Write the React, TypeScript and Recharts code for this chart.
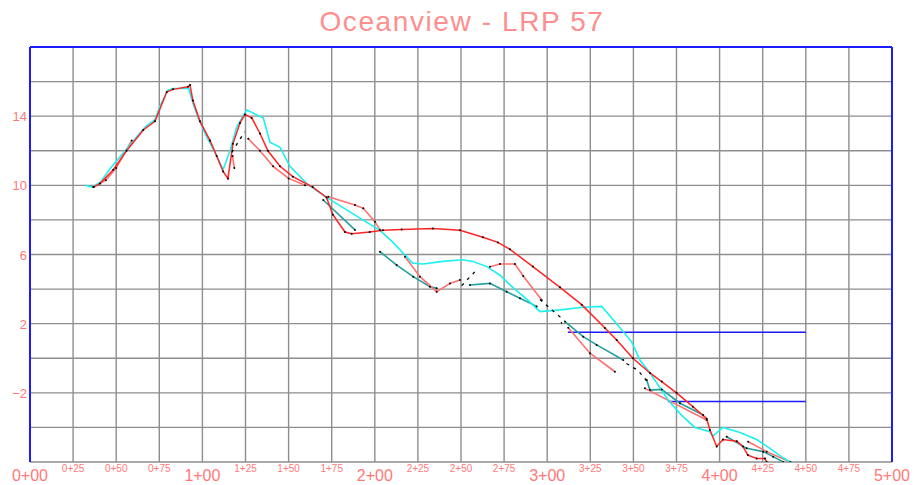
import { LineChart, Line, XAxis, YAxis, CartesianGrid, ReferenceLine } from "recharts";

type Pt = [number, number];

// stations every 25 ft, elevations every 2 ft
const STATIONS = [0, 25, 50, 75, 100, 125, 150, 175, 200, 225, 250, 275, 300, 325, 350, 375, 400, 425, 450, 475, 500];
const ELEV_GRID = [-6, -4, -2, 0, 2, 4, 6, 8, 10, 12, 14, 16, 18];
const ELEV_LABELS = [14, 10, 6, 2, -2];

const cyanProfile: Pt[] = [
  [32, 10.0], [36, 9.9], [41, 10.2], [46, 10.9], [56, 12.1], [67, 13.4], [72.5, 13.8], [75.5, 14.6],
  [80, 15.5], [83, 15.6], [92, 15.6], [94.7, 14.7], [97.6, 13.9], [102.5, 12.8], [107.3, 11.9],
  [112, 10.9], [116, 12.0], [120, 13.4], [125.7, 14.35], [135.3, 13.9], [139.2, 12.5], [145, 12.2],
  [150.8, 11.1], [160.5, 10.1], [172, 9.3], [193, 8.0], [203, 7.4], [210.5, 6.7], [222, 5.5],
  [228, 5.45], [239.5, 5.6], [251, 5.7], [257, 5.6], [265, 5.3], [272.6, 4.8], [280, 4.1],
  [288.3, 3.4], [295.8, 2.7], [307.4, 2.8], [320.7, 2.95], [331.6, 3.0], [340.3, 2.0], [349, 0.95],
  [353.8, -0.1], [359.6, -0.85], [365.4, -1.7], [370, -2.4], [378, -3.3], [385.7, -4.0], [394.4, -4.25],
  [396, -4.5], [402, -4.0], [411.8, -4.3], [421.5, -4.7], [429, -5.2], [436, -5.7], [441, -6.0],
];

const redProfile: Pt[] = [
  [36.7, 9.9], [40.6, 10.1], [48.3, 10.9], [56, 12.0], [65.7, 13.2], [72.5, 13.7], [79.3, 15.4],
  [83, 15.55], [91.6, 15.7], [92.8, 15.8], [94.5, 14.9], [98.6, 13.7], [104.4, 12.6], [108.3, 11.7],
  [112, 10.8], [114.8, 10.4], [117.7, 12.4], [121.8, 13.6], [124.7, 14.1], [128.6, 13.9], [133.4, 13.0],
  [138, 12.0], [145, 11.1], [152.5, 10.5], [164, 9.9], [172, 9.3], [175.7, 8.3], [182.7, 7.3],
  [186.6, 7.2], [197, 7.3], [204.7, 7.4], [215.6, 7.45], [233.7, 7.5], [249.4, 7.4], [262.7, 7.0],
  [271.4, 6.7], [278.4, 6.3], [291.7, 5.3], [307.4, 4.1], [320, 3.1], [333.5, 1.75], [340.3, 1.05],
  [349.7, 0.0], [359.6, -0.85], [366.4, -1.35], [375, -2.0], [384.5, -2.8], [392.5, -3.5], [394.4, -4.15],
  [398.3, -5.1], [402, -4.7], [410, -4.8], [413.5, -5.1], [416.4, -5.6], [421.5, -5.8], [426.3, -5.8],
  [427.3, -6.0],
];

const salmonSegments: Pt[][] = [
  [[37, 9.9], [44, 10.3], [50, 11.0], [59, 12.6]],
  [[117.5, 11.7], [118.5, 11.0]],
  [[126.6, 12.7], [133.4, 12.0], [141, 11.1], [150, 10.4], [159.5, 10.0]],
  [[173, 9.34], [188.5, 8.86], [193.3, 8.67], [200.1, 7.9], [203, 7.42]],
  [[217.5, 5.87], [226.2, 4.72], [235.9, 3.85], [243.6, 4.33], [249.4, 4.53]],
  [[266.8, 5.29], [272.6, 5.45], [281.3, 5.45], [286.1, 4.76], [296.8, 3.37]],
  [[312.2, 1.77], [324.8, 0.29], [339.3, -0.78]],
  [[356.7, -1.74], [392.5, -3.57]],
  [[416.6, -4.83], [427.3, -5.4], [441, -6.0]],
];

const tealSegments: Pt[][] = [
  [[170.1, 9.15], [188.5, 7.42]],
  [[203, 6.16], [212.7, 5.39], [222.3, 4.72], [232, 4.14], [235.9, 4.05]],
  [[255.2, 4.24], [266.8, 4.33], [276.5, 3.85], [284.2, 3.47], [293.9, 3.0]],
  [[310.3, 2.12], [320.9, 1.25], [328.7, 0.77], [344.1, -0.1]],
  [[357.7, -1.26], [359.6, -1.84], [366.4, -1.8], [377, -2.6], [390.5, -3.28]],
  [[404.1, -4.54], [415.7, -5.21], [425.3, -5.4], [431.1, -5.69], [436.9, -6.0]],
];

const blackDashSegments: Pt[][] = [
  [[117, 11.9], [124.5, 13.1]],
  [[250.4, 4.2], [258, 5.0]],
  [[295.8, 3.4], [302.6, 2.8], [307.4, 2.4], [308.4, 2.0]],
  [[346, -0.3], [352.6, -0.7], [357.7, -1.3]],
];

const blueLevels: Pt[][] = [
  [[312, 1.5], [450, 1.5]],
  [[370, -2.5], [450, -2.5]],
];

const toPts = (arr: Pt[]) => arr.map(([x, y]) => ({ x, y }));

const LABEL_COLOR = "#ff7878";
const BORDER = "#1c1cff";
const FONT = "Liberation Sans, Arial, sans-serif";

const fmtStation = (v: number) => `${Math.floor(v / 100)}+${String(v % 100).padStart(2, "0")}`;

function StationTick(props: any) {
  const { x, y, payload } = props;
  const v = payload.value as number;
  const major = v % 100 === 0;
  return (
    <text
      x={x}
      y={major ? y + 19 : y + 10}
      textAnchor="middle"
      fill={LABEL_COLOR}
      fontSize={major ? 16 : 10}
      fontFamily={FONT}
    >
      {fmtStation(v)}
    </text>
  );
}

function ElevTick(props: any) {
  const { x, y, payload } = props;
  const v = payload.value as number;
  if (!ELEV_LABELS.includes(v)) return <g />;
  return (
    <text x={x - 3} y={y + 5} textAnchor="end" fill={LABEL_COLOR} fontSize={13} fontFamily={FONT}>
      {v < 0 ? `\u2212${Math.abs(v)}` : v}
    </text>
  );
}

export default function App() {
  return (
    <div style={{ position: "absolute", left: 0, top: 0, width: 914, height: 485, background: "#fff" }}>
      <svg width={914} height={44} style={{ position: "absolute", left: 0, top: 0 }}>
        <text x={462} y={31} textAnchor="middle" fill="#ff8e8e" fontSize={28} letterSpacing={1.6} fontFamily={FONT}>
          Oceanview - LRP 57
        </text>
      </svg>
      <LineChart width={914} height={485} margin={{ top: 47, right: 22, bottom: 0, left: 0 }}>
        <CartesianGrid stroke="#8e8e8e" strokeWidth={1.4} />
        <XAxis
          type="number"
          dataKey="x"
          domain={[0, 500]}
          ticks={STATIONS}
          interval={0}
          allowDataOverflow
          axisLine={false}
          tickLine={false}
          tickSize={0}
          tickMargin={0}
          height={23}
          tick={StationTick}
        />
        <YAxis
          type="number"
          dataKey="y"
          domain={[-6, 18]}
          ticks={ELEV_GRID}
          interval={0}
          allowDataOverflow
          axisLine={false}
          tickLine={false}
          tickSize={0}
          tickMargin={0}
          width={30}
          tick={ElevTick}
        />
        <ReferenceLine y={18} stroke={BORDER} strokeWidth={2} />
        <ReferenceLine x={0} stroke={BORDER} strokeWidth={2} />
        <ReferenceLine x={500} stroke={BORDER} strokeWidth={2} />
        {blueLevels.map((seg, i) => (
          <Line key={`b${i}`} data={toPts(seg)} dataKey="y" type="linear" stroke="#1a1aff" strokeWidth={1.6} dot={false} isAnimationActive={false} />
        ))}
        {tealSegments.map((seg, i) => (
          <Line key={`t${i}`} data={toPts(seg)} dataKey="y" type="linear" stroke="#22a0a0" strokeWidth={1.6}
            dot={{ r: 1, fill: "#000", stroke: "none" }} isAnimationActive={false} />
        ))}
        {salmonSegments.map((seg, i) => (
          <Line key={`s${i}`} data={toPts(seg)} dataKey="y" type="linear" stroke="#ff7070" strokeWidth={1.6}
            dot={{ r: 1, fill: "#000", stroke: "none" }} isAnimationActive={false} />
        ))}
        <Line data={toPts(cyanProfile)} dataKey="y" type="linear" stroke="#1ef0f0" strokeWidth={1.6} dot={false} isAnimationActive={false} />
        <Line data={toPts(redProfile)} dataKey="y" type="linear" stroke="#ff2525" strokeWidth={1.5}
          dot={{ r: 1, fill: "#000", stroke: "none" }} isAnimationActive={false} />
        {blackDashSegments.map((seg, i) => (
          <Line key={`k${i}`} data={toPts(seg)} dataKey="y" type="linear" stroke="#000" strokeWidth={1.3}
            strokeDasharray="3 5" dot={false} isAnimationActive={false} />
        ))}
      </LineChart>
    </div>
  );
}
